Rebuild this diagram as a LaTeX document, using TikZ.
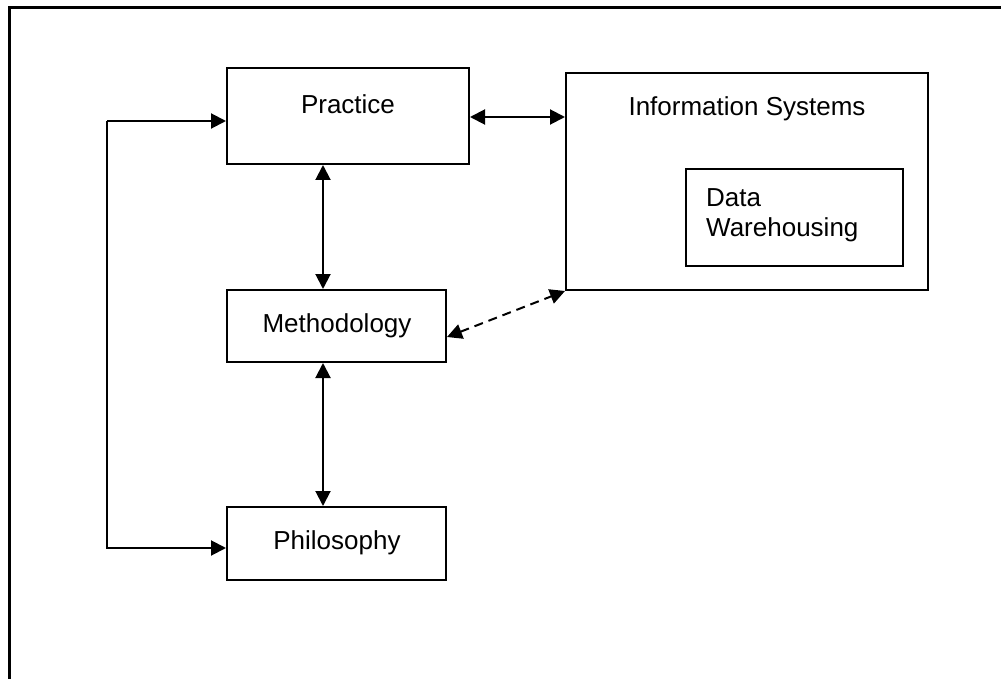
\documentclass[tikz,border=0pt]{standalone}
\usepackage{fontspec}
\setmainfont{Liberation Sans}
\usetikzlibrary{arrows.meta}
\tikzset{
  box/.style={draw,line width=2pt,inner sep=0pt},
  lbl/.style={inner sep=0pt,font=\fontsize{26}{30}\selectfont},
  link/.style={line width=2pt,{Triangle[length=15pt,width=15pt]}-{Triangle[length=15pt,width=15pt]}},
  onearrow/.style={line width=2pt,-{Triangle[length=15pt,width=15pt]}}
}
\begin{document}
\begin{tikzpicture}[x=1pt,y=-1pt]
\useasboundingbox (0,0) rectangle (1001,679);
% frame
\draw[line width=3pt] (9.5,679) -- (9.5,8) -- (1001,8);
% boxes
\node[box,minimum width=242pt,minimum height=96pt] (practice) at (348,116) {};
\node[box,minimum width=219pt,minimum height=72pt] (method) at (336.5,326) {};
\node[box,minimum width=219pt,minimum height=73pt] (philo) at (336.5,543.5) {};
\node[box,minimum width=362pt,minimum height=217pt] (infosys) at (747,181.5) {};
\node[box,minimum width=217pt,minimum height=97pt] (dw) at (794.5,217.5) {};
% texts
\node[lbl] (practicetxt) at (348,104) {Practice};
\node[lbl] (methodtxt) at (337,326) {Methodology};
\node[lbl] (philotxt) at (337,543) {Philosophy};
\node[lbl] (infosystxt) at (747,109) {Information Systems};
\node[lbl,align=left,anchor=west] (dwtxt) at (706,215) {Data\\Warehousing};
% links
\coordinate (loopa) at (107,121);
\coordinate (loopb) at (107,548);
\draw[link] (practice.east |- 0,117) -- (infosys.west |- 0,117);
\draw[link] (practice.south -| 323,0) -- (method.north -| 323,0);
\draw[link] (method.south -| 323,0) -- (philo.north -| 323,0);
\draw[onearrow] (loopa) -- (practice.west |- loopa);
\draw[onearrow] (loopa) -- (loopb) -- (philo.west |- loopb);
\draw[link,dash pattern=on 9pt off 6pt] (method.east |- 0,337) -- (infosys.south west);
\end{tikzpicture}
\end{document}
